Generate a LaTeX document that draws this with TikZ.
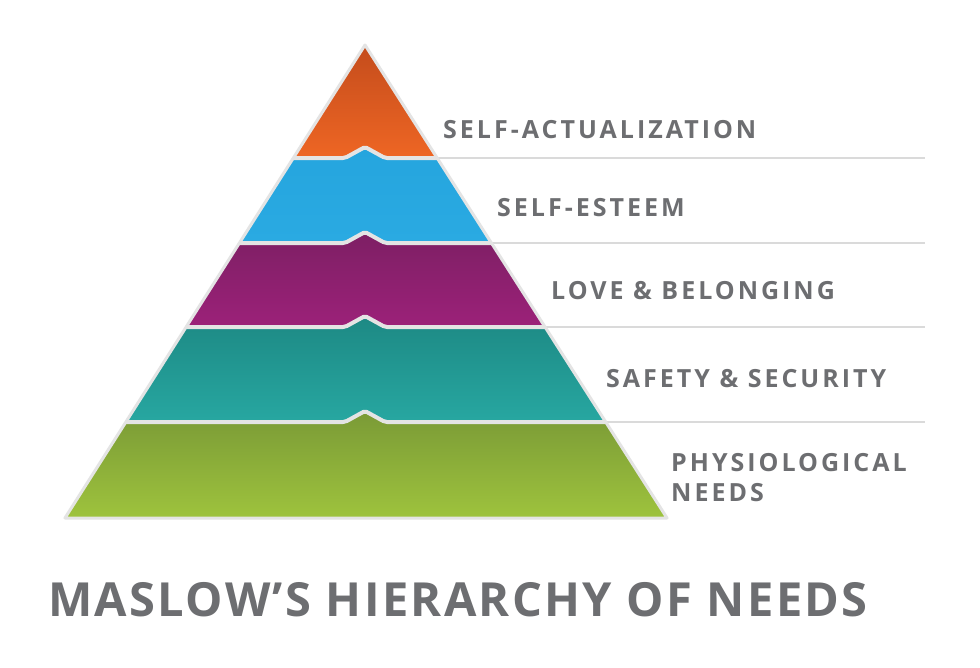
\documentclass[tikz,border=0pt]{standalone}
\usepackage{fontspec}
\setmainfont{Open Sans}
\newfontfamily\lblfont[LetterSpace=12]{Open Sans}
\newfontfamily\ttlfont[LetterSpace=5]{Open Sans}
\definecolor{txtgray}{HTML}{6D6E71}
\definecolor{gapgray}{HTML}{E4E4E4}
\definecolor{rulegray}{HTML}{DADADA}
\definecolor{oT}{HTML}{C44C1C}\definecolor{oB}{HTML}{EE6624}
\definecolor{bT}{HTML}{25A5DE}\definecolor{bB}{HTML}{2AAAE2}
\definecolor{pT}{HTML}{7D1F64}\definecolor{pB}{HTML}{9C2179}
\definecolor{tT}{HTML}{1D8984}\definecolor{tB}{HTML}{27A7A1}
\definecolor{gT}{HTML}{7A9A36}\definecolor{gB}{HTML}{9EC33D}
\begin{document}
\begin{tikzpicture}[x=1pt,y=-1pt,
  lbl/.style={anchor=west,font=\lblfont\bfseries\fontsize{25}{30}\selectfont,text=txtgray,inner sep=0pt},
  gapline/.style={draw=gapgray,line width=4pt,line join=round},
  rule/.style={draw=rulegray,line width=1.5pt}]
\useasboundingbox (0,0) rectangle (980,667);
\fill[white] (0,0) rectangle (980,667);
\draw[rule] (437,158) -- (925,158);
\draw[rule] (491,243) -- (925,243);
\draw[rule] (545,327) -- (925,327);
\draw[rule] (605,422) -- (925,422);
\shade[top color=oT, bottom color=oB, rounded corners=2pt]
  (365,45) -- (437.1,158) -- (385,158) -- (365,147) -- (345,158) -- (293.4,158) -- cycle;
\shade[top color=bT, bottom color=bB, rounded corners=2pt]
  (293.4,158) -- (345,158) -- (365,147) -- (385,158) -- (437.1,158) -- (491.3,243) -- (385,243) -- (365,232) -- (345,243) -- (239.5,243) -- cycle;
\shade[top color=pT, bottom color=pB, rounded corners=2pt]
  (239.5,243) -- (345,243) -- (365,232) -- (385,243) -- (491.3,243) -- (545,327) -- (385,327) -- (365,316) -- (345,327) -- (186.2,327) -- cycle;
\shade[top color=tT, bottom color=tB, rounded corners=2pt]
  (186.2,327) -- (345,327) -- (365,316) -- (385,327) -- (545,327) -- (605.5,422) -- (385,422) -- (365,411) -- (345,422) -- (126,422) -- cycle;
\shade[top color=gT, bottom color=gB, rounded corners=2pt]
  (126,422) -- (345,422) -- (365,411) -- (385,422) -- (605.5,422) -- (667,518) -- (65,518) -- cycle;
\foreach \y/\a/\b in {158/293.4/437.1, 243/239.5/491.3, 327/186.2/545, 422/126/605.5}
  \draw[gapline,rounded corners=2pt] (\a,\y) -- (345,\y) -- (365,\y-11) -- (385,\y) -- (\b,\y);
\draw[draw=gapgray,line width=3pt,line join=round] (365,45) -- (667,518) -- (65,518) -- cycle;
\node[lbl] (l1) at (443,130) {SELF-ACTUALIZATION};
\node[lbl] (l2) at (497,208) {SELF-ESTEEM};
\node[lbl] (l3) at (551,291) {LOVE \& BELONGING};
\node[lbl] (l4) at (606,379) {SAFETY \& SECURITY};
\node[lbl,align=left] (l5) at (671,478) {PHYSIOLOGICAL\\ NEEDS};
\node[anchor=west,font=\ttlfont\bfseries\fontsize{47}{50}\selectfont,text=txtgray,inner sep=0pt] (t) at (48,600) {MASLOW’S HIERARCHY OF NEEDS};
\end{tikzpicture}
\end{document}
